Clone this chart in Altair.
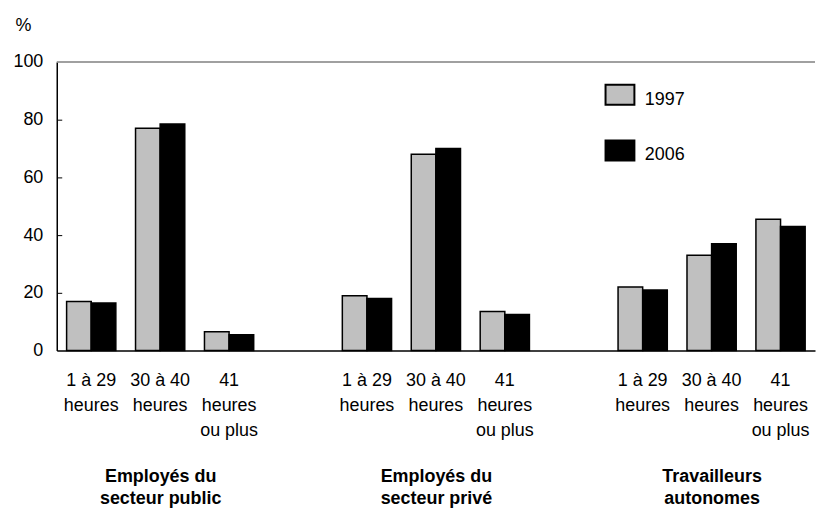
import altair as alt
import pandas as pd

groups = [["Employés du", "secteur public"], ["Employés du", "secteur privé"], ["Travailleurs", "autonomes"]]
hours = [["1 à 29", "heures"], ["30 à 40", "heures"], ["41", "heures", "ou plus"]]
years = ["1997", "2006"]
v1997 = [17, 77, 6.5, 19, 68, 13.5, 22, 33, 45.5]
v2006 = [16.5, 78.5, 5.5, 18, 70, 12.5, 21, 37, 43]
y_ticks = [0, 20, 40, 60, 80, 100]
colors = ["#c0c0c0", "#000000"]

slots = []
rows = []
for gi, g in enumerate(groups):
    if gi > 0:
        slots.append(f"gap{gi}")
    for hi, h in enumerate(hours):
        key = f"{gi}|" + "~".join(h)
        slots.append(key)
        rows.append({"slot": key, "year": years[0], "value": v1997[gi * 3 + hi]})
        rows.append({"slot": key, "year": years[1], "value": v2006[gi * 3 + hi]})
df = pd.DataFrame(rows)
group_keys = ["~".join(g) for g in groups]
gdf = pd.DataFrame({"group": group_keys})
top_df = pd.DataFrame({"v": [100]})

W = 762
H = 290
FONT = "Liberation Sans"
pi = 1 - 50 / 70

bars = alt.Chart(df).mark_bar(stroke="black", strokeWidth=1.5).encode(
    x=alt.X(
        "slot:N",
        sort=slots,
        scale=alt.Scale(domain=slots, paddingInner=pi, paddingOuter=pi / 2),
        axis=alt.Axis(
            title=None, labelAngle=0, ticks=False, domainColor="black", domainWidth=1.5,
            labelExpr="indexof(datum.value, '|') < 0 ? '' : split(slice(datum.value, indexof(datum.value, '|') + 1), '~')",
            labelFontSize=18, labelLineHeight=25, labelPadding=21, labelColor="black",
            labelBaseline="top", labelOverlap=False,
        ),
    ),
    xOffset=alt.XOffset("year:N", sort=years, scale=alt.Scale(paddingInner=0, paddingOuter=0)),
    y=alt.Y(
        "value:Q",
        scale=alt.Scale(domain=[0, 100]),
        axis=alt.Axis(
            values=y_ticks, title="%", titleAngle=0, titleX=-42, titleY=-32, titleAlign="left",
            titleBaseline="alphabetic", titleFontWeight="normal", titleFontSize=18, titleColor="black",
            grid=False, ticks=False, labelPadding=14, labelFontSize=18, labelColor="black",
            domainColor="black", domainWidth=1.5,
        ),
    ),
    color=alt.Color(
        "year:N",
        scale=alt.Scale(domain=years, range=colors),
        legend=alt.Legend(
            title=None, orient="none", legendX=555, legendY=27, direction="vertical",
            symbolType="M-1.45,-1.5H1.45V0.5H-1.45Z", symbolSize=400,
            symbolStrokeColor="black", symbolStrokeWidth=2, symbolOpacity=1,
            labelFontSize=18, labelOffset=14, rowPadding=28, labelBaseline="middle", labelColor="black",
        ),
    ),
)

top_line = alt.Chart(top_df).mark_rule(color="#808080", strokeWidth=1.5).encode(
    y=alt.Y("v:Q", axis=None)
)

glayer = alt.Chart(gdf).mark_point(opacity=0).encode(
    x=alt.X(
        "group:N",
        sort=group_keys,
        scale=alt.Scale(type="point", domain=group_keys, padding=0.375),
        axis=alt.Axis(
            orient="bottom", title=None, labelAngle=0, domain=False, ticks=False,
            labelExpr="split(datum.value, '~')", labelFontSize=18, labelFontWeight="bold",
            labelLineHeight=22, labelPadding=118, labelBaseline="top", labelColor="black",
            labelOverlap=False,
        ),
    ),
    y=alt.YDatum(
        0,
        axis=alt.Axis(
            orient="right", offset=-W, labels=False, domain=False, tickSize=5,
            values=[20, 40, 60, 80], title=None, tickColor="black", grid=False,
        ),
    ),
)

chart = (
    alt.layer(bars, top_line, glayer)
    .resolve_scale(x="independent")
    .resolve_axis(y="independent")
    .properties(width=W, height=H, padding={"left": 4, "top": 7, "right": 0, "bottom": 0})
    .configure(font=FONT)
    .configure_view(stroke=None)
)

chart.save("out.html", embed_options={"renderer": "svg", "actions": False})
